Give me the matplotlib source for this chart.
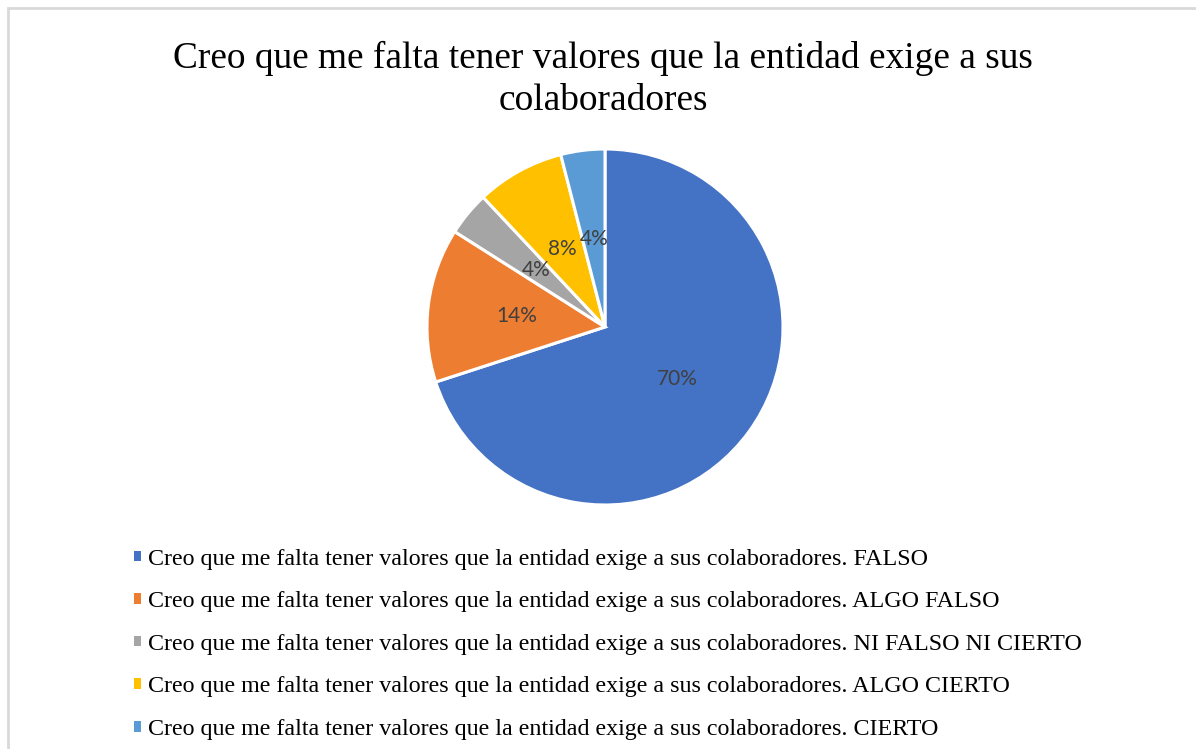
import matplotlib
matplotlib.use("Agg")
import matplotlib.pyplot as plt
from matplotlib.patches import Rectangle, Patch

title = "Creo que me falta tener valores que la entidad exige a sus\ncolaboradores"
prefix = "Creo que me falta tener valores que la entidad exige a sus colaboradores. "
categories = ["FALSO", "ALGO FALSO", "NI FALSO NI CIERTO", "ALGO CIERTO", "CIERTO"]
shares = [70, 14, 4, 8, 4]
colors = ["#4472C4", "#ED7D31", "#A5A5A5", "#FFC000", "#5B9BD5"]

W, H = 1196, 749
fig = plt.figure(figsize=(W / 100, H / 100), dpi=100)

# light grey chart border (right/bottom run off the picture)
fig.patches.append(Rectangle((8 / W, -0.1), 1.2, (H - 8) / H + 0.1, transform=fig.transFigure,
                             fill=False, edgecolor="#D9D9D9", linewidth=2))

fig.text(603 / W, 1 - 79.5 / H, title, ha="center", va="center", fontsize=26.9,
         family="Liberation Serif", linespacing=1.3)

cx, cy, r = 605, 327, 178
ax = fig.add_axes([(cx - r) / W, (H - cy - r) / H, 2 * r / W, 2 * r / H])
wedges, texts, autotexts = ax.pie(
    shares, colors=colors, startangle=90, counterclock=False,
    autopct=lambda p: f"{p:.0f}%", pctdistance=0.5,
    wedgeprops=dict(edgecolor="white", linewidth=2.2),
    textprops=dict(color="#404040", fontsize=15, family="Lato"))
ax.set_xlim(-1, 1)
ax.set_ylim(-1, 1)

handles = [Patch(facecolor=c, edgecolor="none") for c in colors]
fig.legend(handles, [prefix + c for c in categories], loc="upper left",
           bbox_to_anchor=(134 / W, 1 - 548.5 / H), frameon=False,
           prop=dict(family="Liberation Serif", size=17.3),
           handlelength=0.3, handleheight=0.3, handletextpad=0.3,
           labelspacing=0.9, borderpad=0, borderaxespad=0)

fig.savefig("out.png", dpi=100)
